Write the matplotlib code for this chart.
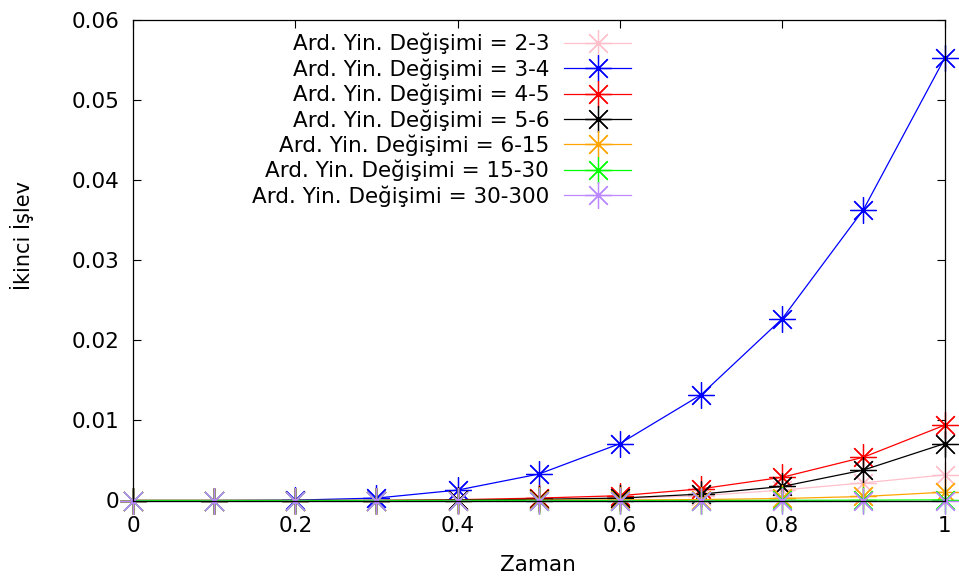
import matplotlib
matplotlib.use("Agg")
import matplotlib.pyplot as plt
from matplotlib.ticker import MultipleLocator, FuncFormatter

x = [0.0, 0.1, 0.2, 0.3, 0.4, 0.5, 0.6, 0.7, 0.8, 0.9, 1.0]
labels = ["Ard. Yin. Değişimi = 2-3", "Ard. Yin. Değişimi = 3-4", "Ard. Yin. Değişimi = 4-5",
          "Ard. Yin. Değişimi = 5-6", "Ard. Yin. Değişimi = 6-15", "Ard. Yin. Değişimi = 15-30",
          "Ard. Yin. Değişimi = 30-300"]
s_2_3 = [0, 0, 0, 0, 0, 0.0001, 0.00025, 0.0006, 0.0013, 0.0022, 0.0032]
s_3_4 = [0, 0, 0.00005, 0.0003, 0.0013, 0.0033, 0.0071, 0.0132, 0.0227, 0.0363, 0.0552]
s_4_5 = [0, 0, 0, 0, 0.0001, 0.0003, 0.0006, 0.00146, 0.0029, 0.0054, 0.0094]
s_5_6 = [0, 0, 0, 0, 0.00005, 0.00015, 0.0003, 0.0008, 0.00175, 0.0038, 0.0071]
s_6_15 = [0, 0, 0, 0, 0, 0.00003, 0.00006, 0.00012, 0.00025, 0.0005, 0.00104]
s_15_30 = [0, 0, 0, 0, 0, 0, 0, 0, 0.00002, 0.00004, 0.00008]
s_30_300 = [0, 0, 0, 0, 0, 0, 0, 0, 0, 0, 0]
series = [s_2_3, s_3_4, s_4_5, s_5_6, s_6_15, s_15_30, s_30_300]
colors = ["#ffc0cb", "#0000ff", "#ff0000", "#000000", "#ffa500", "#00ff00", "#bb88ff"]

W, H = 959, 579
fig = plt.figure(figsize=(W / 100, H / 100), dpi=100)
ax = fig.add_axes([133 / W, 1 - 500.5 / H, (944.5 - 133) / W, (500.5 - 20) / H])

FS = 15.5
marker = (8, 2, 0)
for ys, c, lab in zip(series, colors, labels):
    ax.plot(x, ys, color=c, lw=0.9, marker=marker, markersize=19, markeredgewidth=0.9,
            markeredgecolor=c, label=lab, clip_on=False)

ax.set_xlim(0, 1)
ax.set_ylim(0, 0.06)
ax.xaxis.set_major_locator(MultipleLocator(0.2))
ax.yaxis.set_major_locator(MultipleLocator(0.01))

def fmt(v, pos):
    s = ("%.2f" % v).rstrip("0").rstrip(".")
    return "0" if s in ("0", "-0") else s

ax.xaxis.set_major_formatter(FuncFormatter(fmt))
ax.yaxis.set_major_formatter(FuncFormatter(fmt))
ax.tick_params(direction="in", length=6, width=0.8, labelsize=FS, top=True, right=True)
ax.tick_params(axis="x", pad=11)
ax.tick_params(axis="y", pad=10)
for sp in ax.spines.values():
    sp.set_linewidth(0.9)

fig.text(538 / W, 1 - 565 / H, "Zaman", ha="center", va="center", fontsize=FS)
fig.text(22 / W, 1 - 236 / H, "İkinci İşlev", ha="center", va="center", fontsize=15, rotation=90)

leg = ax.legend(loc="upper right", bbox_to_anchor=(631 / W, 1 - 33 / H), bbox_transform=fig.transFigure,
                frameon=False, markerfirst=False, fontsize=FS, handlelength=3.1, handletextpad=0.7,
                labelspacing=0.18, borderpad=0, borderaxespad=0)

fig.savefig("out.png", dpi=100)
